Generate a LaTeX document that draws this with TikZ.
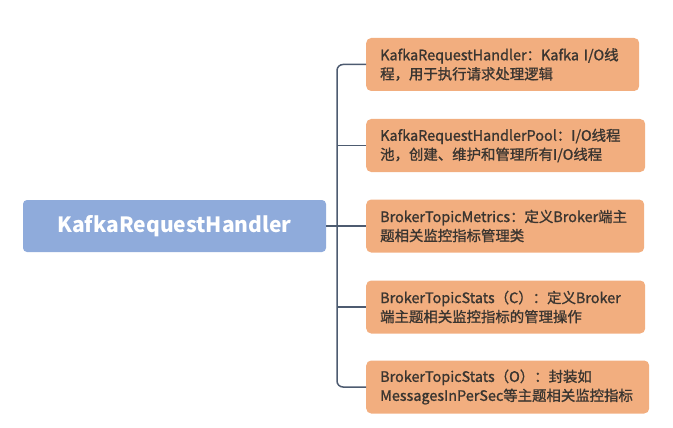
\documentclass[tikz,border=0pt]{standalone}
\usepackage{fontspec}
\setmainfont{Noto Sans CJK SC}
\newfontfamily\leaffont[FakeBold=1.2]{Noto Sans CJK SC}
\definecolor{rootblue}{HTML}{8FABDB}
\definecolor{leafor}{HTML}{F2AE7F}
\definecolor{leaftext}{HTML}{3A3530}
\definecolor{connc}{HTML}{4D5B70}
\tikzset{
  x=1pt, y=-1pt,
  rootbox/.style={draw=none, fill=rootblue, rounded corners=4pt, minimum width=303pt, minimum height=52pt, text=white, font=\fontsize{21}{24}\selectfont\bfseries, inner sep=0pt},
  leaf/.style={draw=none, fill=leafor, rounded corners=5pt, anchor=west, minimum height=53pt, align=left, text=leaftext, font=\leaffont\fontsize{14.4}{19}\selectfont, inner xsep=14pt, inner ysep=0pt},
  conn/.style={draw=connc, line width=1.5pt, rounded corners=6pt}
}
\begin{document}
\begin{tikzpicture}
\useasboundingbox (0,0) rectangle (673,428);
\node[rootbox] (root) at (174.5,226) {KafkaRequestHandler};
\node[leaf, minimum width=273pt, text width=245pt] (b1) at (366,64.5) {KafkaRequestHandler：Kafka I/O线\\程，用于执行请求处理逻辑};
\node[leaf, minimum width=279pt, text width=251pt] (b2) at (366,145.5) {KafkaRequestHandlerPool：I/O线程\\池，创建、维护和管理所有I/O线程};
\node[leaf, minimum width=278pt, text width=250pt] (b3) at (366,226) {BrokerTopicMetrics：定义Broker端主\\题相关监控指标管理类};
\node[leaf, minimum width=279pt, text width=251pt] (b4) at (366,307) {BrokerTopicStats（C）：定义Broker\\端主题相关监控指标的管理操作};
\node[leaf, minimum width=283pt, text width=255pt] (b5) at (366,387) {BrokerTopicStats（O）：封装如\\MessagesInPerSec等主题相关监控指标};
\coordinate (sp) at (337,226);
\draw[conn] (b1.west) -| (sp) |- (b5.west);
\draw[conn] (root.east) -- (sp);
\draw[conn] (sp |- b2.west) -- (b2.west);
\draw[conn] (sp |- b3.west) -- (b3.west);
\draw[conn] (sp |- b4.west) -- (b4.west);
\end{tikzpicture}
\end{document}
